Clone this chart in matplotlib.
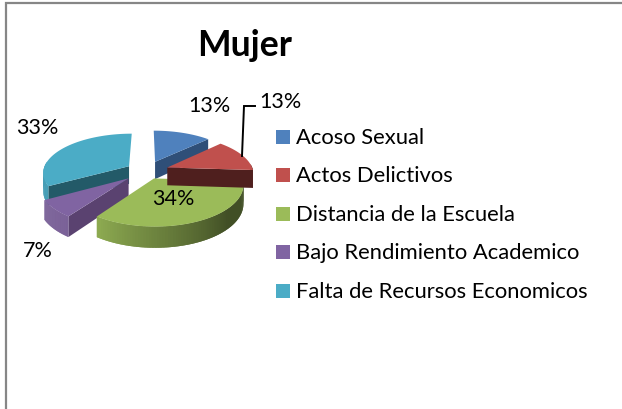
import numpy as np
import matplotlib
matplotlib.use('Agg')
import matplotlib.pyplot as plt
from matplotlib.patches import Polygon, Rectangle

plt.rcParams['font.family'] = ['Lato', 'DejaVu Sans']

categorias = ['Acoso Sexual', 'Actos Delictivos', 'Distancia de la Escuela',
              'Bajo Rendimiento Academico', 'Falta de Recursos Economicos']
valores = [13, 13, 34, 7, 33]
colores = ['#4f81bd', '#c0504d', '#9bbb59', '#8064a2', '#4bacc6']
laterales = ['#2f4f78', '#4f1f1e', '#3d4a22', '#5a4270', '#235a68']
explode = [0.26, 0.26, 0.2, 0.27, 0.24]

# pie geometry, in pixels
CX, CY = 146.5, 172
RX, RY = 86, 40
PERSP = 0.15
GROSOR = 18


def proyectar(u, v):
    s = 1 + PERSP * v
    return CX + RX * u * s, CY + RY * v * s, GROSOR * s


def punto(ang, r, ex, mid):
    # angle clockwise from the top, v grows to the front
    u = ex * np.sin(mid) + r * np.sin(ang)
    v = -ex * np.cos(mid) - r * np.cos(ang)
    return proyectar(u, v)


def mezclar(color, f):
    c = np.array(matplotlib.colors.to_rgb(color))
    return tuple(c * f)


def dibujar_porcion(ax, a0, a1, ex, color, lateral):
    mid = (a0 + a1) / 2
    angs = np.linspace(a0, a1, 80)
    apice = punto(0, 0, ex, mid)
    borde = [punto(a, 1, ex, mid) for a in angs]

    # radial walls, only when they look to the viewer
    for a, normal in ((a0, a0 - np.pi / 2), (a1, a1 + np.pi / 2)):
        if -np.cos(normal) > 0.02:
            p = punto(a, 1, ex, mid)
            pared = [apice[:2], p[:2], (p[0], p[1] + p[2]), (apice[0], apice[1] + apice[2])]
            ax.add_patch(Polygon(pared, closed=True, fc=lateral, ec='none'))

    # outer wall in overlapping strips, shaded along the arc
    for i in range(len(angs) - 1):
        if -np.cos(angs[i]) < -0.1:
            continue
        grados = np.degrees(angs[i]) % 360
        t = np.clip((grados - 130) / 86, 0, 1)
        j = min(i + 2, len(angs) - 1)
        tira = [borde[i][:2], borde[j][:2],
                (borde[j][0], borde[j][1] + borde[j][2]),
                (borde[i][0], borde[i][1] + borde[i][2])]
        ax.add_patch(Polygon(tira, closed=True, fc=mezclar(color, 0.42 + 0.5 * t), ec='none'))

    cara = [apice[:2]] + [b[:2] for b in borde]
    ax.add_patch(Polygon(cara, closed=True, fc=color, ec='none'))


fig = plt.figure(figsize=(6.22, 4.10), dpi=100)
ax = fig.add_axes([0, 0, 1, 1])
ax.set_xlim(0, 622)
ax.set_ylim(410, 0)
ax.axis('off')

# chart frame, only the top and left edges are in the crop
ax.plot([5.5, 5.5, 622], [410, 4, 4], color='#868686', lw=1.6, solid_joinstyle='miter')

fracs = np.array(valores) / sum(valores)
bordes = np.concatenate([[0], np.cumsum(fracs)]) * 2 * np.pi

# back to front
for i in [4, 0, 3, 2, 1]:
    dibujar_porcion(ax, bordes[i], bordes[i + 1], explode[i], colores[i], laterales[i])

# leader of the second label
ax.plot([242, 244, 255], [157, 107, 107], color='black', lw=1.4, solid_joinstyle='miter')

pos_etiquetas = [(209, 106), (280, 102), (173, 199), (38, 251), (37, 128)]
for v, (x, y) in zip(valores, pos_etiquetas):
    ax.text(x, y, f'{v}%', ha='center', va='center', fontsize=15.5, color='black')

ax.text(244.5, 45, 'Mujer', ha='center', va='center', fontsize=25.6,
        fontweight='bold', color='black')

for i, nombre in enumerate(categorias):
    y = 138 + i * 38.4
    ax.add_patch(Rectangle((276, y - 7), 14, 14, fc=colores[i], ec='none'))
    ax.text(296, y, nombre, ha='left', va='center', fontsize=15.85, color='black')

fig.savefig('out.png', dpi=100)
